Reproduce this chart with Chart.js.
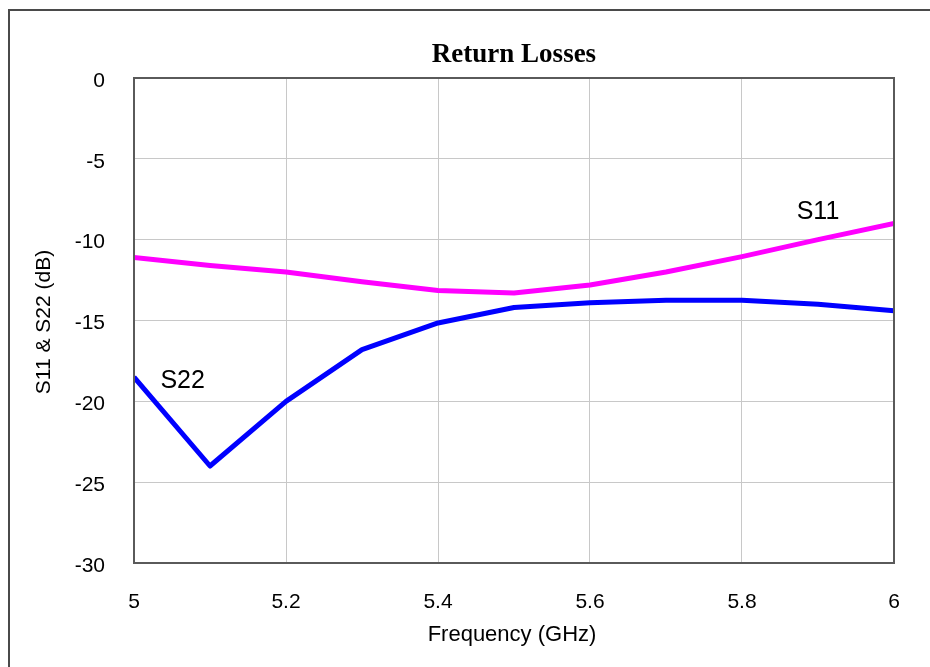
<!DOCTYPE html>
<html>
<head>
<meta charset="utf-8">
<title>Return Losses</title>
<script src="https://cdn.jsdelivr.net/npm/chart.js@4.4.1/dist/chart.umd.min.js"></script>
<style>
    body { margin: 0; background: #fff; }
    canvas { display: block; }
</style>
</head>
<body>
<canvas id="returnLossChart" width="930" height="667"></canvas>
<script>
// Frequency points (GHz) and measured return losses (dB)
const frequencies = [5.0, 5.1, 5.2, 5.3, 5.4, 5.5, 5.6, 5.7, 5.8, 5.9, 6.0];
const s11Values = [-11.1, -11.6, -12.0, -12.6, -13.15, -13.3, -12.8, -12.0, -11.05, -10.0, -9.0];
const s22Values = [-18.5, -24.0, -20.0, -16.8, -15.15, -14.2, -13.9, -13.75, -13.75, -14.0, -14.4];
const xTickLabels = ['5', '5.2', '5.4', '5.6', '5.8', '6'];
const yTickLabels = ['-30', '-25', '-20', '-15', '-10', '-5', '0'];

// Where the curve names sit, in axis units
const seriesLabels = [
    { text: 'S22', x: 5.064, y: -18.75 },
    { text: 'S11', x: 5.90, y: -8.3 }
];

function toPoints(values) {
    return frequencies.map((f, i) => ({ x: f, y: values[i] }));
}

// Title, axis titles, curve names and the two frames
const decorations = {
    id: 'decorations',
    afterDraw(chart) {
        const ctx = chart.ctx;
        const area = chart.chartArea;
        const xScale = chart.scales.x;
        const yScale = chart.scales.y;
        ctx.save();

        // outer frame
        ctx.strokeStyle = '#4a4a4a';
        ctx.lineWidth = 2;
        ctx.strokeRect(9, 10, 940, 700);

        // plot frame
        ctx.strokeStyle = '#5a5a5a';
        ctx.lineWidth = 2;
        ctx.strokeRect(area.left, area.top, area.right - area.left, area.bottom - area.top);

        ctx.fillStyle = '#000';
        ctx.textAlign = 'center';
        ctx.textBaseline = 'middle';

        ctx.font = 'bold 27px "Liberation Serif", "Times New Roman", serif';
        ctx.fillText('Return Losses', 514, 55);

        ctx.font = '22px "Liberation Sans", Arial, sans-serif';
        ctx.fillText('Frequency (GHz)', 512, 635);

        ctx.save();
        ctx.translate(44, 322);
        ctx.rotate(-Math.PI / 2);
        ctx.font = '21px "Liberation Sans", Arial, sans-serif';
        ctx.fillText('S11 & S22 (dB)', 0, 0);
        ctx.restore();

        ctx.font = '25px "Liberation Sans", Arial, sans-serif';
        seriesLabels.forEach(lbl => {
            ctx.fillText(lbl.text, xScale.getPixelForValue(lbl.x), yScale.getPixelForValue(lbl.y));
        });

        ctx.restore();
    }
};

const tickFont = { family: '"Liberation Sans", Arial, sans-serif', size: 21 };

new Chart(document.getElementById('returnLossChart'), {
    type: 'line',
    data: {
        datasets: [
            {
                label: 'S11',
                data: toPoints(s11Values),
                borderColor: '#ff00ff',
                borderWidth: 5,
                pointRadius: 0,
                tension: 0,
                borderJoinStyle: 'round'
            },
            {
                label: 'S22',
                data: toPoints(s22Values),
                borderColor: '#0000ff',
                borderWidth: 5,
                pointRadius: 0,
                tension: 0,
                borderJoinStyle: 'round'
            }
        ]
    },
    options: {
        responsive: false,
        devicePixelRatio: 1,
        animation: false,
        layout: {
            padding: { left: 0, top: 78, right: 36, bottom: 0 }
        },
        scales: {
            x: {
                type: 'linear',
                min: 5,
                max: 6,
                afterFit: scale => { scale.height = 104; },
                afterBuildTicks: scale => {
                    scale.ticks = xTickLabels.map(t => ({ value: parseFloat(t) }));
                },
                grid: { color: '#c8c8c8', lineWidth: 1, drawTicks: false },
                border: { display: false },
                ticks: {
                    font: tickFont,
                    color: '#000',
                    padding: 27,
                    maxRotation: 0,
                    callback: (value, index) => xTickLabels[index]
                }
            },
            y: {
                min: -30,
                max: 0,
                afterFit: scale => { scale.width = 134; },
                afterBuildTicks: scale => {
                    scale.ticks = yTickLabels.map(t => ({ value: parseFloat(t) }));
                },
                grid: { color: '#c8c8c8', lineWidth: 1, drawTicks: false },
                border: { display: false },
                ticks: {
                    font: tickFont,
                    color: '#000',
                    padding: 29,
                    labelOffset: 3,
                    callback: (value, index) => yTickLabels[index]
                }
            }
        },
        plugins: {
            legend: { display: false },
            tooltip: { enabled: false }
        }
    },
    plugins: [decorations]
});
</script>
</body>
</html>
